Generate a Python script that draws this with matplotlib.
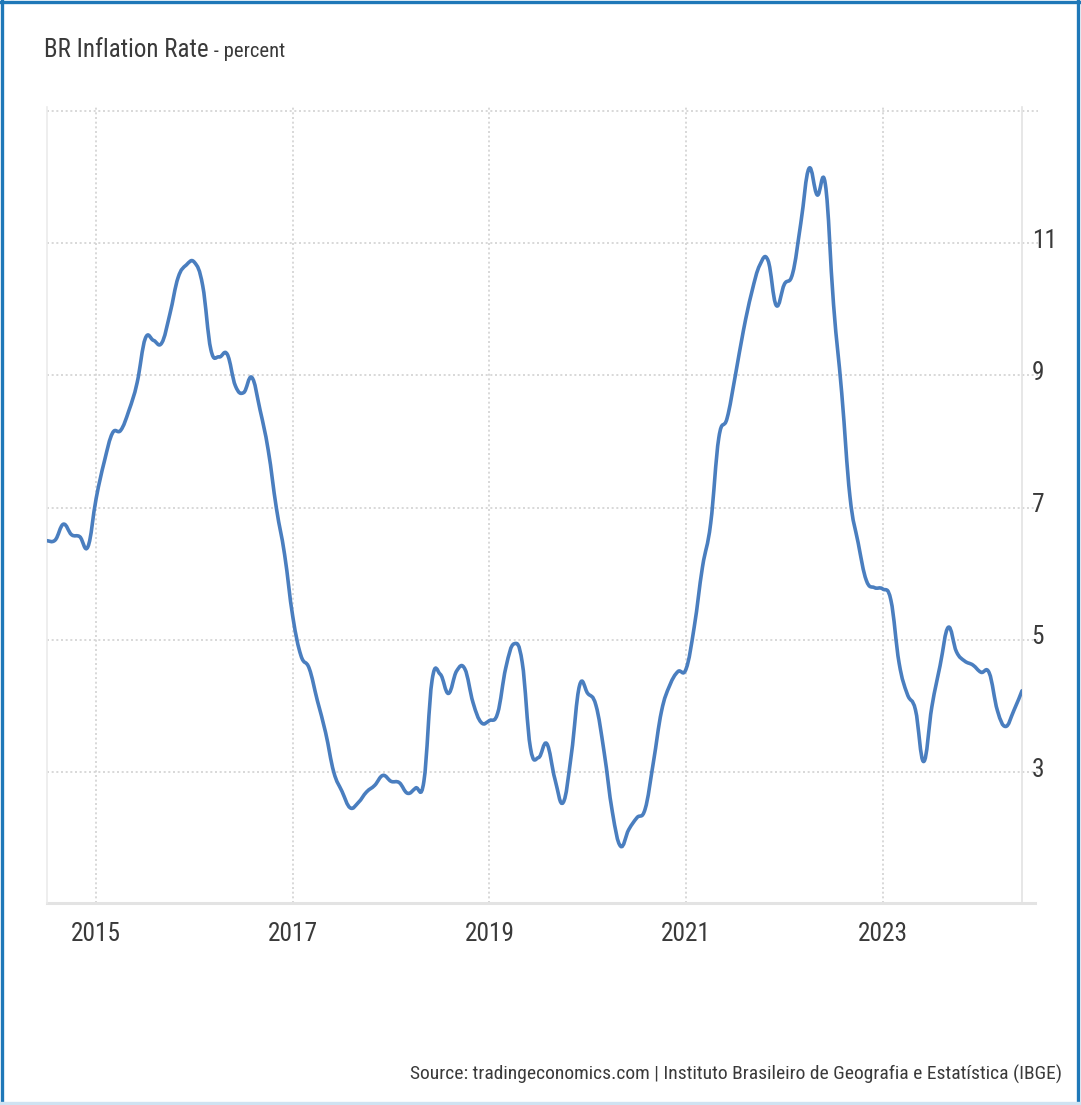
import matplotlib
matplotlib.use("Agg")
import matplotlib.pyplot as plt
import numpy as np
from matplotlib.path import Path
from matplotlib.patches import PathPatch
from matplotlib.lines import Line2D
from matplotlib.transforms import ScaledTranslation
from matplotlib import font_manager

# ---------------- data (monthly, Jul 2014 .. Jun 2024) ----------------
start_year = 2014
start_month = 7
inflation = [
    # 2014 Jul-Dec
    6.50, 6.51, 6.75, 6.59, 6.56, 6.41,
    # 2015
    7.14, 7.70, 8.13, 8.17, 8.47, 8.89, 9.56, 9.53, 9.49, 9.93, 10.48, 10.67,
    # 2016
    10.71, 10.36, 9.39, 9.28, 9.32, 8.84, 8.74, 8.97, 8.48, 7.87, 6.99, 6.29,
    # 2017
    5.35, 4.76, 4.57, 4.08, 3.60, 3.00, 2.71, 2.46, 2.54, 2.70, 2.80, 2.95,
    # 2018
    2.86, 2.84, 2.68, 2.76, 2.86, 4.39, 4.48, 4.19, 4.53, 4.56, 4.05, 3.75,
    # 2019
    3.78, 3.89, 4.58, 4.94, 4.66, 3.37, 3.22, 3.43, 2.89, 2.54, 3.27, 4.31,
    # 2020
    4.19, 4.01, 3.30, 2.40, 1.88, 2.13, 2.31, 2.44, 3.14, 3.92, 4.31, 4.52,
    # 2021
    4.56, 5.20, 6.10, 6.76, 8.06, 8.35, 8.99, 9.68, 10.25, 10.67, 10.74, 10.06,
    # 2022
    10.38, 10.54, 11.30, 12.13, 11.73, 11.89, 10.07, 8.73, 7.17, 6.47, 5.90, 5.79,
    # 2023
    5.77, 5.60, 4.65, 4.18, 3.94, 3.16, 3.99, 4.61, 5.19, 4.82, 4.68, 4.62,
    # 2024 Jan-Jun
    4.51, 4.50, 3.93, 3.69, 3.93, 4.23,
]
x_ticks = [2015, 2017, 2019, 2021, 2023]
x_tick_labels = ["2015", "2017", "2019", "2021", "2023"]
y_ticks = [3, 5, 7, 9, 11]
y_tick_labels = ["3", "5", "7", "9", "11"]
title_main = "BR Inflation Rate"
title_unit = " - percent"
source_text = "Source: tradingeconomics.com | Instituto Brasileiro de Geografia e Estatística (IBGE)"

# decimal-year position of each monthly observation
x = np.array([start_year + (start_month - 1 + i) / 12.0 for i in range(len(inflation))])
y = np.array(inflation)

# ---------------- styling ----------------
available = {f.name for f in font_manager.fontManager.ttflist}
FONT = [f for f in ["Roboto Condensed", "Archivo Narrow", "PT Sans Narrow",
                    "Liberation Sans", "DejaVu Sans"] if f in available]
plt.rcParams["font.family"] = FONT
LINE_COLOR = "#4a7ebf"
GRID_COLOR = "#d2d2d2"
TEXT_COLOR = "#3a3a3a"

W, H = 1081, 1105
fig = plt.figure(figsize=(W / 100, H / 100), dpi=100)
fig.patch.set_facecolor("white")
renderer = fig.canvas.get_renderer()


def fit_width(t, target_px, max_size):
    """scale a text's font size so that its rendered width is target_px"""
    t.set_fontsize(20)
    w = t.get_window_extent(renderer).width
    t.set_fontsize(min(max_size, 20 * target_px / w))


left, right, top, bottom = 47, 1022, 107, 903
ax = fig.add_axes([left / W, 1 - bottom / H, (right - left) / W, (bottom - top) / H])
ax.set_xlim(x[0], x[-1])
ax.set_ylim(1.02, 13.06)
for s in ax.spines.values():
    s.set_visible(False)

# gridlines (dotted); horizontal ones run a little past the right axis
dot = (0, (1.2, 1.6))
for v in y_ticks + [13]:
    ax.axhline(v, xmin=0, xmax=1.0164, color=GRID_COLOR, lw=1.2, ls=dot, clip_on=False, zorder=1)
for v in x_ticks:
    ax.axvline(v, color=GRID_COLOR, lw=1.2, ls=dot, zorder=1)

# axis lines
ax.add_line(Line2D([0, 1.0133], [0, 0], transform=ax.transAxes, color="#e3e3e3", lw=2.2, clip_on=False, zorder=2))
ax.add_line(Line2D([1, 1], [0, 1], transform=ax.transAxes, color="#e3e3e3", lw=1.2, clip_on=False, zorder=2))
ax.add_line(Line2D([0, 0], [0, 1], transform=ax.transAxes, color="#ebebeb", lw=1.2, clip_on=False, zorder=2))

# smooth spline through the monthly values (cubic Bezier segments)
k = 0.2
verts = [(x[0], y[0])]
codes = [Path.MOVETO]
n = len(x)
for i in range(n - 1):
    p0 = np.array([x[max(i - 1, 0)], y[max(i - 1, 0)]])
    p1 = np.array([x[i], y[i]])
    p2 = np.array([x[i + 1], y[i + 1]])
    p3 = np.array([x[min(i + 2, n - 1)], y[min(i + 2, n - 1)]])
    c1 = p1 + (p2 - p0) * k
    c2 = p2 - (p3 - p1) * k
    verts += [tuple(c1), tuple(c2), tuple(p2)]
    codes += [Path.CURVE4] * 3
path = Path(verts, codes)
ax.add_patch(PathPatch(path, facecolor="none", edgecolor=LINE_COLOR, lw=2.6,
                       capstyle="round", joinstyle="round", zorder=3))

# ticks: size chosen so that "2015" is ~50 px wide (condensed look)
probe = fig.text(0, 0, "2015")
fit_width(probe, 50, 24)
tick_size = probe.get_fontsize()
probe.remove()

ax.set_xticks(x_ticks)
ax.set_xticklabels(x_tick_labels)
ax.yaxis.tick_right()
ax.set_yticks(y_ticks)
ax.set_yticklabels(y_tick_labels)
ax.tick_params(axis="x", length=0, pad=14, labelsize=tick_size, labelcolor=TEXT_COLOR)
ax.tick_params(axis="y", length=0, pad=7, labelsize=tick_size, labelcolor=TEXT_COLOR)
off = ScaledTranslation(0, 5 / 100, fig.dpi_scale_trans)
for lab in ax.get_yticklabels():
    lab.set_transform(lab.get_transform() + off)

# title
t1 = fig.text(44 / W, 1 - 57 / H, title_main, color=TEXT_COLOR, va="baseline", ha="left")
fit_width(t1, 164, 26)
bb = t1.get_window_extent(renderer)
t2 = fig.text(bb.x1 / W, 1 - 57 / H, title_unit, color=TEXT_COLOR, va="baseline", ha="left")
fit_width(t2, 76, 18)

# source
ts = fig.text(1062 / W, 1 - 1080 / H, source_text, color=TEXT_COLOR, va="baseline", ha="right")
fit_width(ts, 649, 18)

# frame border
bc = "#1f78b8"
fig.add_artist(Line2D([1.5 / W, 1.5 / W], [0, 1], transform=fig.transFigure, color=bc, lw=2.4))
fig.add_artist(Line2D([0, 1], [1 - 1.5 / H, 1 - 1.5 / H], transform=fig.transFigure, color=bc, lw=2.4))
fig.add_artist(Line2D([1 - 3.5 / W, 1 - 3.5 / W], [0, 1], transform=fig.transFigure, color=bc, lw=2.4))
fig.add_artist(Line2D([0, 1], [2 / H, 2 / H], transform=fig.transFigure, color="#cfe3f2", lw=2.4))

fig.savefig("out.png", dpi=100, facecolor="white")
